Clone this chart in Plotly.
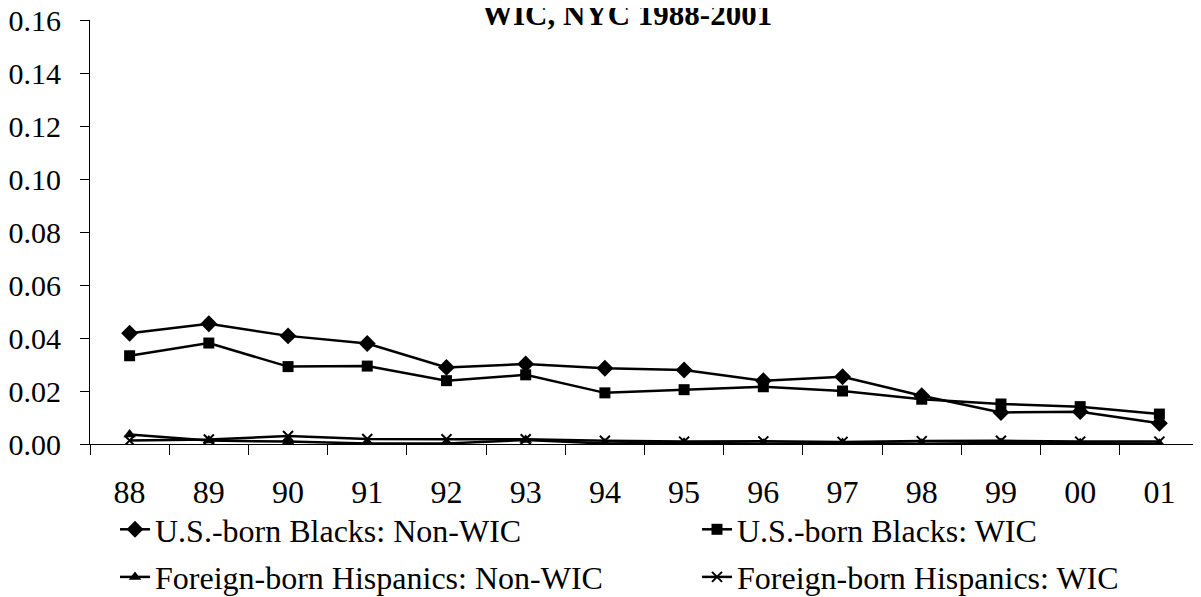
import plotly.graph_objects as go

years = ['88', '89', '90', '91', '92', '93', '94', '95', '96', '97', '98', '99', '00', '01']
blk_nonwic = [0.0418, 0.0454, 0.0408, 0.0379, 0.0289, 0.0302, 0.0286, 0.0279, 0.0239, 0.0254, 0.0182, 0.0119, 0.0122, 0.0078]
blk_wic = [0.0333, 0.0381, 0.0292, 0.0294, 0.0239, 0.0261, 0.0193, 0.0205, 0.0216, 0.0200, 0.0169, 0.0151, 0.0141, 0.0113]
hisp_nonwic = [0.0036, 0.0013, 0.0009, 0.0002, 0.0002, 0.0015, 0.0002, 0.0005, 0.0001, 0.0004, 0.0001, 0.0004, 0.0003, 0.0001]
hisp_wic = [0.0013, 0.0017, 0.0030, 0.0019, 0.0018, 0.0018, 0.0012, 0.0009, 0.0010, 0.0008, 0.0011, 0.0012, 0.0009, 0.0009]

series_names = ['U.S.-born Blacks: Non-WIC', 'U.S.-born Blacks: WIC',
                'Foreign-born Hispanics: Non-WIC', 'Foreign-born Hispanics: WIC']
title_text = 'WIC, NYC 1988-2001'
y_ticks = [0.00, 0.02, 0.04, 0.06, 0.08, 0.10, 0.12, 0.14, 0.16]

FONT = 'Liberation Serif'
W, H = 1201, 597
# the page body adds an 8px offset, so margins are shifted to compensate
L, R, T, B = 82, 10, 12, 161
PW, PH = W - L - R, H - T - B

fig = go.Figure()
specs = [
    (blk_nonwic, 'diamond', 13, 0, 'legend'),
    (blk_wic, 'square', 11, 0, 'legend2'),
    (hisp_nonwic, 'triangle-up', 11, 0, 'legend'),
    (hisp_wic, 'x-thin', 10, 2, 'legend2'),
]
for i, ((vals, sym, size, lw, leg), name) in enumerate(zip(specs, series_names)):
    fig.add_trace(go.Scatter(
        x=years, y=vals, name=name, mode='lines+markers',
        line=dict(color='black', width=2.5),
        marker=dict(symbol=sym, size=size, color='black',
                    line=dict(color='black', width=lw)),
        legend=leg, legendgroup='g%d' % i,
    ))

leg_common = dict(orientation='v', xref='container', yref='container',
                  xanchor='left', yanchor='top', tracegroupgap=3,
                  font=dict(size=32, family=FONT, color='black'),
                  bgcolor='rgba(0,0,0,0)', borderwidth=0)

fig.update_layout(
    width=W, height=H,
    margin=dict(l=L, r=R, t=T, b=B, autoexpand=False),
    paper_bgcolor='white', plot_bgcolor='white',
    font=dict(family=FONT, size=32, color='black'),
    showlegend=True,
    legend=dict(x=107 / W, y=1 - 494 / H, **leg_common),
    legend2=dict(x=689 / W, y=1 - 494 / H, **leg_common),
    annotations=[dict(text='<b>' + title_text + '</b>', xref='paper', yref='paper',
                      x=(619 - L) / PW, y=(T + PH - 6) / PH,
                      xanchor='center', yanchor='middle',
                      showarrow=False, font=dict(family=FONT, size=31, color='black'))],
)
fig.update_xaxes(
    type='category', categoryorder='array', categoryarray=years,
    range=[-0.5, len(years) - 0.5],
    showline=True, linecolor='black', linewidth=1,
    ticks='outside', ticklen=10, tickcolor='black', tickwidth=1,
    tickson='boundaries', showgrid=False, zeroline=False,
    ticklabelstandoff=20, automargin=False, ticklabeloverflow='allow',
    tickfont=dict(size=32, family=FONT),
)
fig.update_yaxes(
    range=[0, 0.16], tickvals=y_ticks, tickformat='.2f',
    showline=True, linecolor='black', linewidth=1,
    ticks='outside', ticklen=9, tickcolor='black', tickwidth=1,
    showgrid=False, zeroline=False, ticklabelstandoff=13, automargin=False,
    ticklabeloverflow='allow',
    tickfont=dict(size=30, family=FONT),
)
fig.write_html('out.html')
